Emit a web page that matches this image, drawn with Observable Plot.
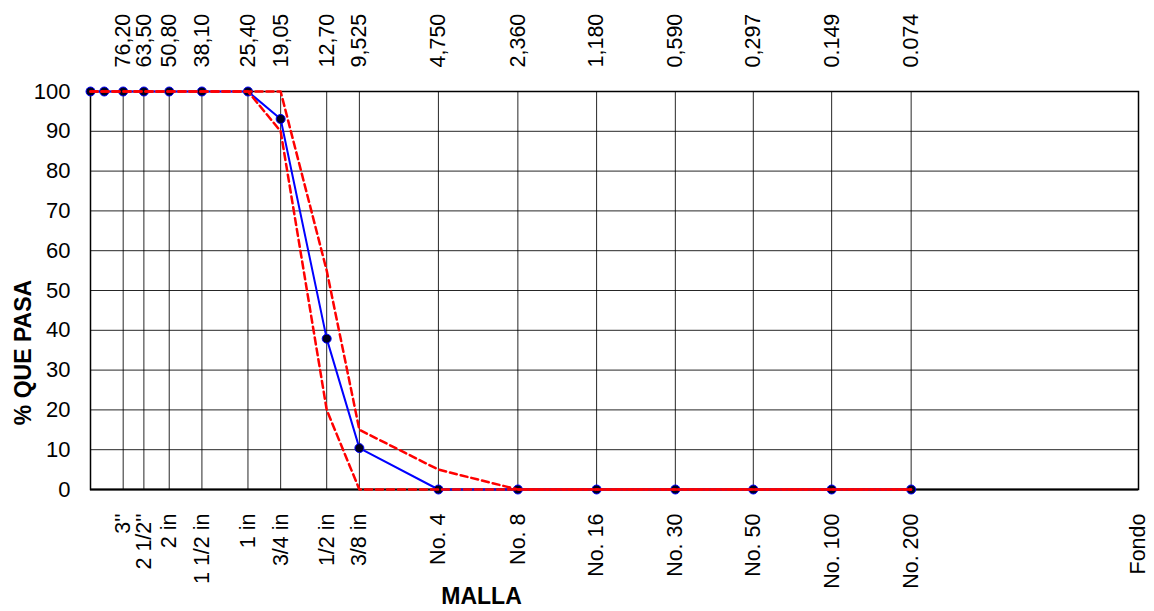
<!DOCTYPE html>
<html>
<head>
<meta charset="utf-8">
<script src="https://cdn.jsdelivr.net/npm/d3@7"></script>
<script src="https://cdn.jsdelivr.net/npm/@observablehq/plot@0.6"></script>
<style>
  html, body { margin: 0; padding: 0; background: #fff; }
  #chart { width: 1154px; height: 611px; }
</style>
</head>
<body>
<div id="chart"></div>
<script>
// Sieve openings (mm), left to right
const sieveSizes = [101.6, 90, 76.2, 63.5, 50.8, 38.1, 25.4, 19.05, 12.7, 9.525, 4.75, 2.36, 1.18, 0.59, 0.297, 0.149, 0.074];
// % passing (sample)
const percentPassing = [100, 100, 100, 100, 100, 100, 100, 93.1, 37.9, 10.4, 0, 0, 0, 0, 0, 0, 0];
// Specification limits
const upperLimit = [100, 100, 100, 100, 100, 100, 100, 100, 55, 15, 5, 0, 0, 0, 0, 0, 0];
const lowerLimit = [100, 100, 100, 100, 100, 100, 100, 90, 20, 0, 0, 0, 0, 0, 0, 0, 0];

// Axis ticks
const tickSizes = [76.2, 63.5, 50.8, 38.1, 25.4, 19.05, 12.7, 9.525, 4.75, 2.36, 1.18, 0.59, 0.297, 0.149, 0.074];
const topLabels = ["76,20", "63,50", "50,80", "38,10", "25,40", "19,05", "12,70", "9,525", "4,750", "2,360", "1,180", "0,590", "0,297", "0.149", "0.074"];
const fondoSize = 0.01;
const bottomSizes = [...tickSizes, fondoSize];
const bottomLabels = ["3''", "2 1/2''", "2 in", "1 1/2 in", "1 in", "3/4 in", "1/2 in", "3/8 in", "No. 4", "No. 8", "No. 16", "No. 30", "No. 50", "No. 100", "No. 200", "Fondo"];
const yTicks = [0, 10, 20, 30, 40, 50, 60, 70, 80, 90, 100];

const sample = sieveSizes.map((s, i) => ({size: s, pct: percentPassing[i]}));
const upper = sieveSizes.map((s, i) => ({size: s, pct: upperLimit[i]}));
const lower = sieveSizes.map((s, i) => ({size: s, pct: lowerLimit[i]}));
const topTicks = tickSizes.map((s, i) => ({size: s, label: topLabels[i]}));
const bottomTicks = bottomSizes.map((s, i) => ({size: s, label: bottomLabels[i]}));

const font = "'Liberation Sans', Arial, Helvetica, sans-serif";

const chart = Plot.plot({
  width: 1154,
  height: 611,
  marginLeft: 90,
  marginRight: 16,
  marginTop: 91,
  marginBottom: 122,
  style: {fontFamily: font, background: "#fff", color: "#000"},
  x: {type: "log", domain: [101.6, fondoSize], axis: null},
  y: {domain: [0, 100]},
  marks: [
    Plot.gridY(yTicks, {stroke: "#000", strokeOpacity: 0.85, strokeWidth: 1}),
    Plot.gridX(tickSizes, {stroke: "#000", strokeOpacity: 0.85, strokeWidth: 1}),
    Plot.frame({stroke: "#000", strokeWidth: 1.5}),
    Plot.ruleY([0], {stroke: "#000", strokeWidth: 2}),
    Plot.axisY(yTicks, {tickSize: 0, tickPadding: 20, fontSize: 22, label: null}),
    Plot.text(topTicks, {ariaLabel: "sieve-mm", x: "size", text: "label", frameAnchor: "top", dy: -24, rotate: -90, textAnchor: "start", lineAnchor: "middle", fontSize: 21.5, fill: "#000"}),
    Plot.text(bottomTicks, {ariaLabel: "sieve-name", x: "size", text: "label", frameAnchor: "bottom", dy: 24, rotate: -90, textAnchor: "end", lineAnchor: "middle", fontSize: 21.5, fill: "#000"}),
    Plot.line(sample, {x: "size", y: "pct", stroke: "#0000ff", strokeWidth: 2}),
    Plot.dot(sample, {x: "size", y: "pct", r: 4.5, fill: "#000020", stroke: "#0000ff", strokeWidth: 1}),
    Plot.line(upper, {x: "size", y: "pct", stroke: "#ff0000", strokeWidth: 2.5, strokeDasharray: "7,4"}),
    Plot.line(lower, {x: "size", y: "pct", stroke: "#ff0000", strokeWidth: 2.5, strokeDasharray: "7,4"}),
    Plot.text(["% QUE PASA"], {frameAnchor: "left", dx: -67, dy: 62, rotate: -90, fontSize: 23, fontWeight: "bold", fill: "#000", textAnchor: "middle"}),
    Plot.text(["MALLA"], {frameAnchor: "bottom-left", dx: 391, dy: 107, fontSize: 23, fontWeight: "bold", fill: "#000", textAnchor: "middle", lineAnchor: "middle"})
  ]
});
d3.select(chart).selectAll('g[aria-label="sieve-mm"], g[aria-label="sieve-name"]').style("letter-spacing", "1.1px");
document.getElementById("chart").appendChild(chart);
</script>
</body>
</html>
